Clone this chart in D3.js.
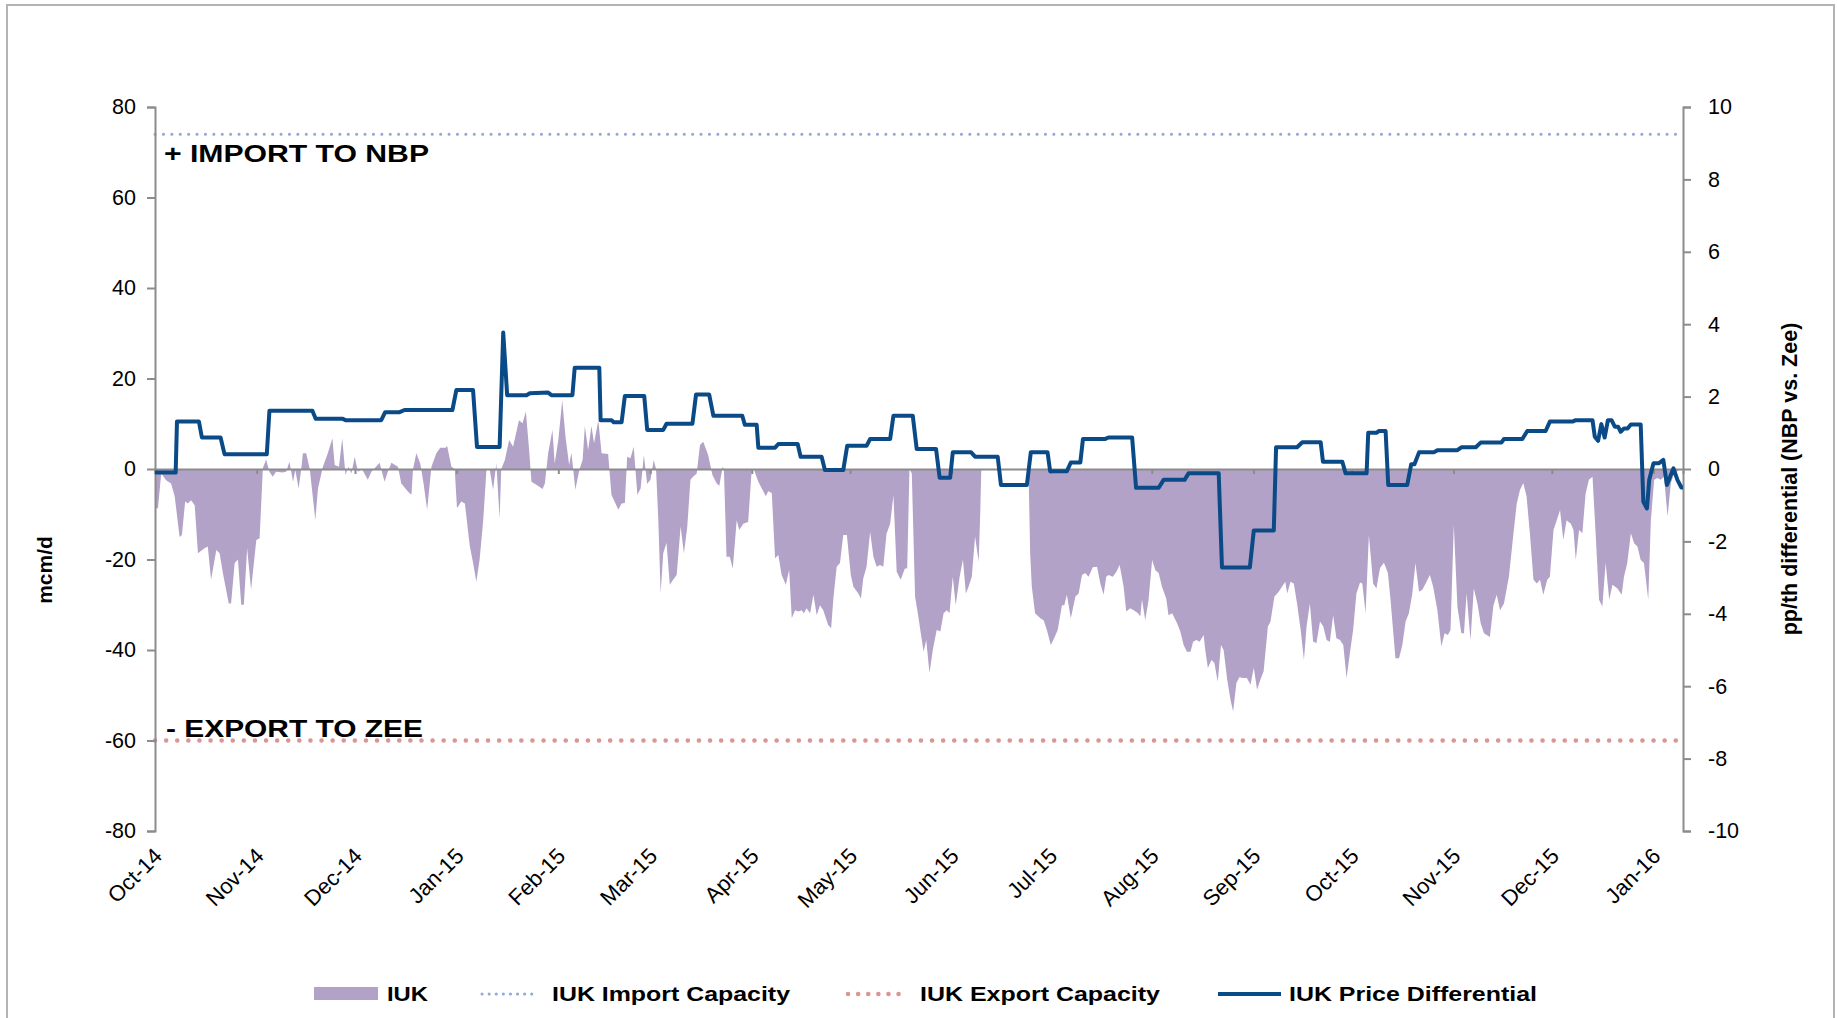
<!DOCTYPE html>
<html lang="en">
<head>
<meta charset="UTF-8">
<title>IUK flows and price differential</title>
<script src="https://d3js.org/d3.v7.min.js"></script>
<style>
	body{margin:0;background:#fff;}
	text{font-family:"Liberation Sans",Arial,sans-serif;fill:#000;}
</style>
</head>
<body>
<script>
// dates are counted in days from the start of the axis
const startDate = new Date(2014, 9, 1);
const endDate = new Date(2016, 0, 10);
const monthLabels = ["Oct-14","Nov-14","Dec-14","Jan-15","Feb-15","Mar-15","Apr-15","May-15","Jun-15","Jul-15","Aug-15","Sep-15","Oct-15","Nov-15","Dec-15","Jan-16"];
const leftTicks = [80,60,40,20,0,-20,-40,-60,-80];
const rightTicks = [10,8,6,4,2,0,-2,-4,-6,-8,-10];
const importCapacity = 74;
const exportCapacity = -60;

// IUK physical flow, mcm/d
const flowDays = [0,0.9,1.9,3.4,4.9,6,7.5,8.2,9.2,10,11,12.1,13.1,15.1,16.1,17.1,18.7,19.7,20.7,22.5,23.2,24.3,25.3,26.3,27.1,28.1,29.3,30.9,31.9,32.9,33.9,34.9,35.9,36.9,38.9,40,41,42.1,42.8,43.8,44.6,45.1,46.1,47.2,48.9,49.7,51.2,52.7,54.1,54.8,56.1,57.1,58.1,59,59.9,60.9,61.9,63.1,64.9,66,68.5,70,71,72.1,74.1,75.1,77.2,78.2,78.7,79.7,80.9,81.9,83,84.3,85.8,87,88.6,89.1,90.4,91.4,92.1,93.4,94.5,96,97,98,99,100.1,101.1,102.1,103.1,104.1,105.1,105.6,106.7,108,109.2,111,112.1,113.1,114.1,114.8,116.3,118.2,118.9,119.9,121.2,121.9,123,124.2,125.2,126.3,127,128.2,129.4,130.4,131.1,132.1,133.1,133.9,135.2,136.2,138.2,139.2,141.3,142.3,143.3,144,145,146,147.1,148.1,149.1,150.1,151.1,152.1,152.8,153.5,154.2,155,156,157,158,159.1,160.3,161.3,162.3,163.3,164.1,165.2,166.2,167.2,168.7,170,171.3,172.1,173.1,173.5,174.3,175.3,176.2,177.4,178.2,179.4,180.9,182,182.7,184,185.5,186.3,187,188.1,189.1,190.1,191.1,192.4,193.4,194.2,195.2,196.2,197.2,197.9,198.7,199.8,200.8,201.8,202.8,203.8,205.3,206.2,206.9,207.9,208.9,209.9,211,212.2,213,214.5,215.3,216,217,218.1,219.1,220.1,221.1,222.1,223.1,224.2,225.2,226.2,227.4,228.7,229.4,230.1,230.8,231.8,232.8,233.4,234.4,235.2,236.2,237.2,238.4,239.5,240.5,241.5,242.3,243.3,244.2,245.4,246.4,247.3,248.1,249.1,250.1,251.2,251.7,252,266.4,266.9,267.4,268.4,270,271,272,273.2,274.2,275.3,276.6,277.3,278.1,279.3,280.7,281.7,282.7,283.7,284.7,286,287.3,288.3,289.3,290.1,290.8,292.1,293.2,294.2,295.4,296.2,297.4,298.5,299.8,300.5,301,302,303,304.1,305.1,306.1,307.1,308.4,309.1,310.2,311.7,312.7,313.7,314.7,315.8,316.6,317.6,318.6,319.8,320.3,321.1,322.2,323.1,324.1,325.1,325.9,327,328,328.8,329.8,330.7,331.8,333,334.1,335.1,336.1,337.1,338.1,339.4,340.2,341.4,342.7,343.7,344.7,345.3,346.3,347.3,348.3,349.4,350.4,351.2,352.2,353.2,354.2,355.3,356.3,357.3,358.3,359.3,360.3,361.4,362.4,363.4,364.4,365.4,366.4,367.5,368.2,369.2,370.2,371.5,372.5,373.6,374.8,376,376.8,378.3,379.4,380.4,381.4,382.4,383.4,384.4,385.5,386.5,387.5,388.8,389.8,391.1,392.3,393.3,394.3,395.1,396.1,397.2,398.4,399.2,400,401.2,402.2,403.3,404.3,405.3,407.1,408.2,409.2,410.2,411.4,412.9,414.3,415.3,416.3,417.3,418.3,419.3,420.4,421.4,422.4,423.4,424.6,425.4,426.5,427.5,428.5,429.5,430.5,431.8,432.6,433.3,434.3,435.3,436.3,437.3,438.4,439.4,440.4,441.4,442.4,443.5,444.5,446,447.3,448,449,450.1,451.1,452.1,453.1,454.1,455.4,456.2,457.2,458.2,459.2,460.2,461.3,462.3,463.3,464.8,466];
const flowValues = [-8.7,-8.7,-1,-2.5,-3.2,-6,-15,-14.6,-7.2,-7.6,-6.9,-8,-18.6,-17.5,-17.1,-24.5,-17.9,-18.6,-23,-29.7,-29.7,-20.8,-20,-30,-30,-17.5,-26.7,-15.7,-15.3,0.2,2.1,-0.6,-1.7,-0.6,-0.8,-0.6,1.6,-2.8,-0.2,-4.3,0,3.5,3.5,0,-11.3,-4.3,0.5,3.5,6.8,0.9,0.5,6.8,-1.3,0.5,-1,2.7,-0.6,0,-2.4,-0.6,1.4,-2.8,-0.6,1.4,0.5,-3.2,-5,-5.7,0,3.5,1.2,-3.2,-9,0.5,3.5,4.7,4.7,5.1,0.5,0,-8.7,-7.2,-7.6,-17,-20.7,-24.9,-20,-11.3,0,-0.2,-4.6,1.2,-11,0,2,6.4,4.9,10.8,10.1,12.7,4.2,-2.8,-3.5,-4.4,-3.2,3.5,8.6,1.2,6.4,15.2,7.1,0.9,3.6,-4.6,-0.2,2,9.5,4.2,9.5,5.7,10.8,3.5,3.3,-5.7,-9,-7.6,-7.5,2.7,2.4,4.9,-5.7,-4.3,3.1,-3.3,-2.4,2,0,-11.3,-27.5,-18.6,-16.3,-25.6,-24.5,-23.4,-12.7,-18.6,-13,-2.4,-1.7,-1,5.3,6,3.1,-1.3,-3.2,-3.7,0.5,0,-19.4,-19.4,-22,-11.3,-13.5,-12.1,-11.7,0,-0.2,-2.8,-4.9,-6,-4.9,-5.3,-19.7,-19,-23.4,-25.6,-22.3,-33,-31.2,-31.5,-31.2,-31.9,-30.8,-31.9,-27.8,-32.3,-30.1,-31.2,-34.5,-35.2,-28.5,-21.6,-20.8,-14.6,-14.6,-23.4,-26,-27.5,-28.6,-24.2,-21.6,-13.9,-19.4,-21.6,-21.2,-21.6,-14.3,-12.1,-5.8,-22.7,-24.5,-22,-22,0,-1,-28.2,-32.6,-35.6,-40.4,-37.8,-45.1,-40,-35.6,-35.9,-31.9,-31.2,-31.9,-23.8,-30.1,-23.8,-20,-27.5,-26,-23.8,-14.9,-20.5,-9.1,0,0,-18.6,-26,-31.9,-33,-33.4,-35.6,-38.9,-37.4,-35.6,-30.1,-30.1,-27.8,-33,-28.2,-27.5,-23.4,-23,-23.8,-21.7,-21.6,-25.3,-27.8,-23.8,-23.4,-23.8,-22.7,-21.2,-26,-31.5,-30.8,-31.2,-31.9,-32.6,-28.8,-33.4,-29,-20.1,-22.4,-23,-26,-28.6,-32.3,-31.9,-34.1,-35.9,-38.9,-40.4,-40.4,-38.2,-37.8,-38.2,-36.7,-40,-44,-42.2,-42.9,-47,-38.9,-40,-46.6,-51,-53.6,-47.3,-46,-46.2,-46.2,-47.7,-43.9,-48.8,-46.6,-44.7,-34.8,-33.7,-28.2,-27.1,-26,-24.9,-27.5,-24.9,-25.3,-29.7,-35.6,-42.2,-34.8,-29.7,-38.1,-38.5,-33.7,-34.8,-37.8,-38.2,-32.3,-37.4,-37.8,-38.9,-46.2,-40.7,-35.6,-27.5,-25.1,-25.3,-31.9,-14.6,-25.3,-26.4,-21.9,-20.7,-23,-28.9,-41.8,-41.8,-38.9,-33.7,-31.9,-27.8,-20.8,-27.1,-26.7,-25.3,-23.4,-26,-31.2,-39.2,-36.3,-36.7,-35.6,-12.4,-30.4,-36.3,-36.3,-27.5,-37.8,-26.4,-29.7,-34.1,-36.3,-37.1,-30.1,-27.8,-31.2,-29.7,-23.8,-14.2,-7.6,-4.6,-3.1,-6.1,-14.2,-24.5,-25.3,-24.5,-27.8,-24.5,-23.8,-13.5,-11.3,-9.1,-15.7,-11.3,-12.1,-13.5,-20.1,-13.5,-14.2,-5.4,-2.4,-1.7,-14.9,-28.9,-30.4,-20.8,-28.9,-25.6,-26.4,-27.8,-23.8,-20.8,-14.2,-16.4,-17.1,-20.1,-20.8,-28.9,-11.3,-2.4,-2,-2.4,-1.7,-10.5,-3.1,-1,-0.2,0];

// IUK price differential, p/th (NBP vs. Zee)
const priceDays = [0,6.3,6.7,13.4,14.3,20,21.2,34.1,34.9,48,49,57.1,58.1,69,70.2,74.6,76.1,90.7,91.9,97,98.2,105.1,106.2,107.4,113.3,114.3,119.9,120.9,127.3,128,135.5,135.9,139.2,139.9,142.3,143.3,149.2,150.1,155,156,163.9,165,169,170.3,179.1,179.9,183.5,184,189.1,190.1,196,196.9,203.3,204.3,209.9,211.1,217,218.1,224.2,225.2,231.1,232.3,238.2,239.3,242.5,243.3,248.9,250.1,257,258,265.9,267.1,272.2,273,278.1,279.3,282.2,283,289.8,290.8,298,299.2,306.1,307.6,314,315.2,324.4,325.4,333.9,335.1,341.2,341.9,348.3,349.9,355.5,356.2,362.1,363.1,369.5,370,372.5,373.3,375.3,376.1,381.9,383.1,384.1,385.5,390,391.1,397.2,398.4,402.8,404.3,410.6,411.4,417,418.5,424.1,425.4,432.3,433.3,438.4,439.1,440.1,441.1,442.1,443.1,444.2,445.2,446.2,447,448,449.1,450.1,453.1,453.9,455,455.7,457,458.7,460,461.1,462.1,463.1,464.3,465.5,466];
const priceValues = [-0.1,-0.1,1.31,1.31,0.87,0.87,0.41,0.41,1.61,1.61,1.39,1.39,1.35,1.35,1.57,1.57,1.63,1.63,2.18,2.18,0.61,0.61,3.77,2.04,2.04,2.09,2.11,2.04,2.04,2.8,2.8,1.35,1.35,1.29,1.29,2.02,2.02,1.08,1.08,1.25,1.25,2.06,2.06,1.47,1.47,1.22,1.22,0.59,0.59,0.69,0.69,0.34,0.34,-0.03,-0.03,0.64,0.64,0.83,0.83,1.47,1.47,0.55,0.55,-0.24,-0.24,0.46,0.46,0.34,0.34,-0.44,-0.44,0.46,0.46,-0.06,-0.06,0.18,0.18,0.83,0.83,0.87,0.87,-0.52,-0.52,-0.3,-0.3,-0.12,-0.12,-2.72,-2.72,-1.7,-1.7,0.6,0.6,0.74,0.74,0.2,0.2,-0.12,-0.12,1,1,1.05,1.05,-0.44,-0.44,0.13,0.13,0.46,0.46,0.52,0.52,0.6,0.6,0.73,0.73,0.83,0.83,1.05,1.05,1.31,1.31,1.35,1.35,0.89,0.78,1.24,0.87,1.35,1.35,1.17,1.17,1.03,1.12,1.12,1.23,1.23,-0.9,-1.09,-0.3,0.16,0.16,0.25,-0.44,-0.21,0.02,-0.3,-0.51,-0.51];

const W = 1837, H = 1018;
const dayToDate = d => new Date(startDate.getTime() + d * 864e5);
const flow = flowDays.map((d, i) => ({date: dayToDate(d), v: flowValues[i]}));
const price = priceDays.map((d, i) => ({date: dayToDate(d), v: priceValues[i]}));
const months = d3.timeMonth.range(startDate, endDate);

const x = d3.scaleTime().domain([startDate, endDate]).range([155, 1683]);
const yL = d3.scaleLinear().domain([-80, 80]).range([831, 107]);
const yR = d3.scaleLinear().domain([-10, 10]).range([831, 107]);

const svg = d3.select("body").append("svg").attr("width", W).attr("height", H);

svg.append("rect")
	.attr("x", 7).attr("y", 5).attr("width", 1827).attr("height", 1030)
	.style("fill", "none").style("stroke", "#b4b4b4").style("stroke-width", 2);

// flow area
svg.append("path")
	.datum(flow)
	.attr("d", d3.area().x(d => x(d.date)).y0(yL(0)).y1(d => yL(d.v)))
	.style("fill", "#b3a2c7");

// capacity lines
svg.append("line")
	.attr("x1", 155).attr("x2", 1683)
	.attr("y1", yL(importCapacity)).attr("y2", yL(importCapacity))
	.style("stroke", "#8eaad8").style("stroke-width", 3)
	.style("stroke-dasharray", "0.1 8.3").style("stroke-linecap", "round");
svg.append("line")
	.attr("x1", 155).attr("x2", 1683)
	.attr("y1", yL(exportCapacity)).attr("y2", yL(exportCapacity))
	.style("stroke", "#d99694").style("stroke-width", 4.5)
	.style("stroke-dasharray", "0.1 11").style("stroke-linecap", "round");

// zero line with month ticks
const xAxis = svg.append("g")
	.attr("transform", "translate(0," + yL(0) + ")")
	.call(d3.axisBottom(x).tickValues(months).tickSize(5).tickFormat(""));
xAxis.select(".domain").style("stroke", "#8c8c8c").style("stroke-width", 2);
xAxis.selectAll(".tick line").style("stroke", "#8c8c8c").style("stroke-width", 2);

// month labels along the bottom
svg.append("g").selectAll("text")
	.data(months)
	.enter()
	.append("text")
	.attr("transform", d => "translate(" + (x(d) + 3) + ",852) rotate(-45)")
	.attr("text-anchor", "end")
	.attr("dy", "0.35em")
	.style("font-size", "22px")
	.text((d, i) => monthLabels[i]);

// left axis
const left = svg.append("g")
	.attr("transform", "translate(155,0)")
	.call(d3.axisLeft(yL).tickValues(leftTicks).tickSize(8).tickPadding(11).tickFormat(d => String(d)));
// right axis
const right = svg.append("g")
	.attr("transform", "translate(1683,0)")
	.call(d3.axisRight(yR).tickValues(rightTicks).tickSize(8).tickPadding(17).tickFormat(d => String(d)));
[left, right].forEach(function(a){
	a.select(".domain").style("stroke", "#8c8c8c").style("stroke-width", 2);
	a.selectAll(".tick line").style("stroke", "#8c8c8c").style("stroke-width", 2);
	a.selectAll(".tick text").style("font-size", "21.5px").style("font-family", "Liberation Sans, Arial, sans-serif").style("fill", "#000");
});

// price differential line
svg.append("path")
	.datum(price)
	.attr("d", d3.line().x(d => x(d.date)).y(d => yR(d.v)))
	.style("fill", "none").style("stroke", "#0a4a86").style("stroke-width", 4)
	.style("stroke-linejoin", "round");

// axis titles
svg.append("text")
	.attr("transform", "translate(52,570) rotate(-90)")
	.attr("text-anchor", "middle")
	.style("font-size", "21px").style("font-weight", "bold")
	.text("mcm/d");
svg.append("text")
	.attr("transform", "translate(1797,479) rotate(-90)")
	.attr("text-anchor", "middle")
	.style("font-size", "21.5px").style("font-weight", "bold")
	.text("pp/th differential (NBP vs. Zee)");

// annotations
svg.append("text")
	.attr("x", 164).attr("y", 162)
	.attr("textLength", 265).attr("lengthAdjust", "spacingAndGlyphs")
	.style("font-size", "24px").style("font-weight", "bold")
	.text("+ IMPORT TO NBP");
svg.append("text")
	.attr("x", 166).attr("y", 737)
	.attr("textLength", 257).attr("lengthAdjust", "spacingAndGlyphs")
	.style("font-size", "24px").style("font-weight", "bold")
	.text("- EXPORT TO ZEE");

// legend
const lg = svg.append("g");
lg.append("rect").attr("x", 314).attr("y", 987).attr("width", 64).attr("height", 13).style("fill", "#b3a2c7");
lg.append("line").attr("x1", 482).attr("x2", 535).attr("y1", 994).attr("y2", 994)
	.style("stroke", "#8eaad8").style("stroke-width", 3)
	.style("stroke-dasharray", "0.1 7").style("stroke-linecap", "round");
lg.append("line").attr("x1", 848).attr("x2", 908).attr("y1", 994).attr("y2", 994)
	.style("stroke", "#d99694").style("stroke-width", 4.5)
	.style("stroke-dasharray", "0.1 10").style("stroke-linecap", "round");
lg.append("line").attr("x1", 1218).attr("x2", 1281).attr("y1", 994).attr("y2", 994)
	.style("stroke", "#0a4a86").style("stroke-width", 4);
const legendItems = [["IUK", 387, 41], ["IUK Import Capacity", 552, 238], ["IUK Export Capacity", 920, 240], ["IUK Price Differential", 1289, 248]];
lg.selectAll("text.lbl")
	.data(legendItems)
	.enter()
	.append("text")
	.attr("class", "lbl")
	.attr("x", d => d[1]).attr("y", 1001)
	.attr("textLength", d => d[2]).attr("lengthAdjust", "spacingAndGlyphs")
	.style("font-size", "21px").style("font-weight", "bold")
	.text(d => d[0]);
</script>
</body>
</html>
